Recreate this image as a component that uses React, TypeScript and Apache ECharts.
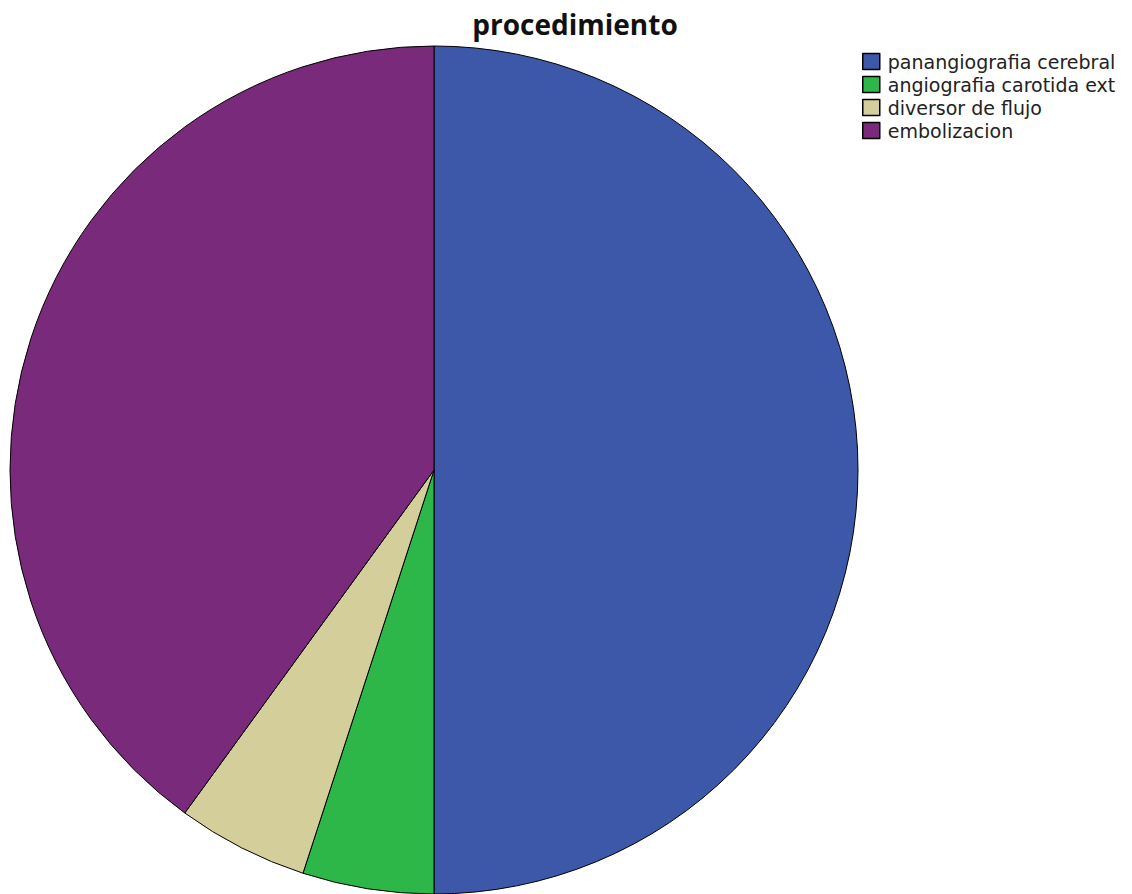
import React, { useEffect, useRef } from "react";
import * as echarts from "echarts";

const categories = ["panangiografia cerebral", "angiografia carotida ext", "diversor de flujo", "embolizacion"];
const values = [50, 5, 5, 40];
const colors = ["#3D58A9", "#2EB749", "#D4CE9B", "#7A2A7A"];

export default function App() {
  const ref = useRef<HTMLDivElement>(null);
  useEffect(() => {
    document.body.style.margin = "0";
    const chart = echarts.init(ref.current!, null, { renderer: "svg" });
    chart.setOption({
      animation: false,
      backgroundColor: "#ffffff",
      title: {
        text: "procedimiento",
        left: 570,
        textAlign: "center",
        top: 5,
        textStyle: { fontFamily: "Open Sans", fontWeight: "bold", fontSize: 28, color: "#111" },
      },
      legend: {
        orient: "vertical",
        left: 857,
        top: 46,
        itemWidth: 17,
        itemHeight: 16,
        itemGap: 2,
        icon: "rect",
        itemStyle: { borderColor: "#000", borderWidth: 1.5 },
        textStyle: { fontFamily: "DejaVu Sans", fontSize: 19, lineHeight: 21, color: "#222", padding: [0, 0, 0, 3] },
        data: categories,
      },
      series: [
        {
          type: "pie",
          center: [434, 470],
          radius: 424,
          startAngle: 90,
          clockwise: true,
          label: { show: false },
          labelLine: { show: false },
          itemStyle: { borderColor: "#000", borderWidth: 1 },
          emphasis: { disabled: true },
          data: categories.map((name, i) => ({ name, value: values[i], itemStyle: { color: colors[i] } })),
        },
      ],
    });
    return () => chart.dispose();
  }, []);
  return <div ref={ref} style={{ width: 1132, height: 894 }} />;
}
